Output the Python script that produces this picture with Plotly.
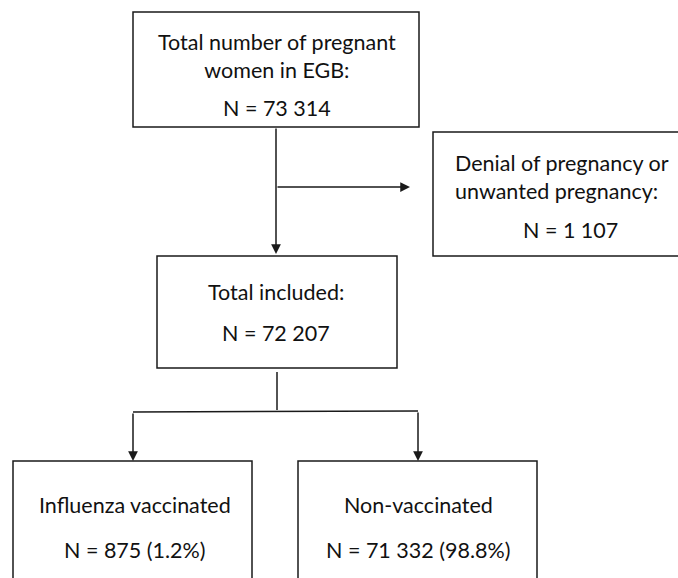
import plotly.graph_objects as go

# ---- data ----
node_titles = [
    "Total number of pregnant<br>women in EGB:",
    "Denial of pregnancy or<br>unwanted pregnancy:",
    "Total included:",
    "Influenza vaccinated",
    "Non-vaccinated",
]
node_counts = ["73 314", "1 107", "72 207", "875", "71 332"]
node_pcts = [None, None, None, "1.2%", "98.8%"]

# ---- layout (pixel geometry, y downward) ----
W, H = 678, 578
boxes = [  # x0, y0, x1, y1
    (133, 12, 419, 127),
    (433, 132, 682, 256),
    (157, 256, 397, 368),
    (13, 461, 252, 600),
    (298, 461, 537, 600),
]
title_pos = [(277, 56, "center"), (453, 177, "left"), (276, 292, "center"),
             (135, 505, "center"), (418, 505, "center")]
count_pos = [(277, 108), (570, 230), (276, 333), (135, 550), (418, 550)]

FONT = "Lato, 'Noto Sans', sans-serif"
LC = "#1a1a1a"
FS = 21.5

fig = go.Figure()
fig.add_trace(go.Scatter(x=[0, W], y=[0, H], mode="markers",
                         marker=dict(opacity=0), hoverinfo="skip", showlegend=False))

shapes = []
for (x0, y0, x1, y1) in boxes:
    shapes.append(dict(type="rect", x0=x0, y0=y0, x1=x1, y1=y1,
                       line=dict(color=LC, width=1.5), fillcolor="white", layer="below"))
# plain connector lines
for (xa, ya, xb, yb) in [(277, 372, 277, 410), (133, 412, 418, 411)]:
    shapes.append(dict(type="line", x0=xa, y0=ya, x1=xb, y1=yb,
                       line=dict(color=LC, width=1.5)))

annotations = []
# arrows: (tail x, tail y, head x, head y)
for (tx, ty, hx, hy) in [(276, 127, 276, 254), (276, 187, 410, 187),
                         (133, 412, 133, 461), (418, 411, 418, 461)]:
    annotations.append(dict(x=hx, y=hy, ax=tx, ay=ty, xref="x", yref="y",
                            axref="x", ayref="y", text="", showarrow=True,
                            arrowhead=2, arrowsize=1.3, arrowwidth=1.5,
                            arrowcolor=LC))

for i, title in enumerate(node_titles):
    x, y, al = title_pos[i]
    annotations.append(dict(x=x, y=y, xref="x", yref="y", text=title, showarrow=False,
                            xanchor=al, yanchor="middle", align=al,
                            font=dict(family=FONT, size=FS, color="#111")))
    cnt = "N = " + node_counts[i]
    if node_pcts[i]:
        cnt += " (" + node_pcts[i] + ")"
    cx, cy = count_pos[i]
    annotations.append(dict(x=cx, y=cy, xref="x", yref="y", text=cnt, showarrow=False,
                            xanchor="center", yanchor="middle",
                            font=dict(family=FONT, size=FS, color="#111")))

fig.update_layout(
    width=W, height=H, margin=dict(l=0, r=0, t=0, b=0),
    paper_bgcolor="white", plot_bgcolor="white",
    xaxis=dict(range=[0, W], visible=False, fixedrange=True),
    yaxis=dict(range=[H, 0], visible=False, fixedrange=True),
    shapes=shapes, annotations=annotations, showlegend=False,
)
fig.write_html("out.html", config={"displayModeBar": False},
               post_script="document.body.style.margin='0';document.body.style.overflow='hidden';")
